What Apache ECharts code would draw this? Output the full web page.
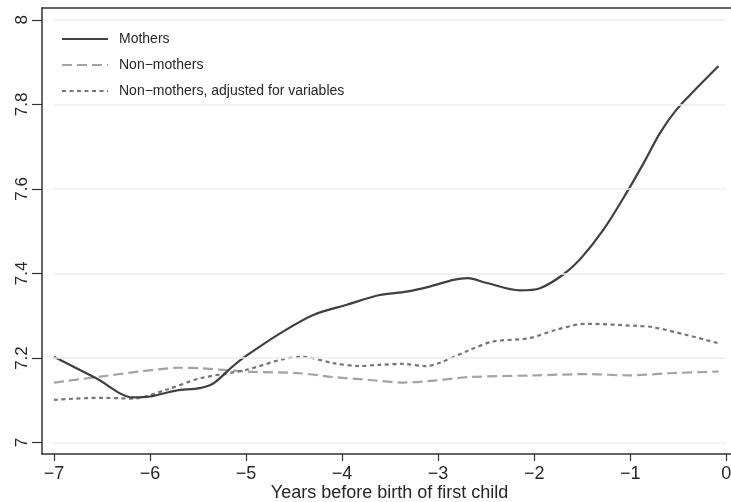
<!DOCTYPE html>
<html>
<head>
<meta charset="utf-8">
<script src="https://cdn.jsdelivr.net/npm/echarts@6/dist/echarts.min.js"></script>
<style>
  html, body { margin: 0; padding: 0; background: #fff; }
  #chart { width: 731px; height: 502px; }
</style>
</head>
<body>
<div id="chart"></div>
<script>
// Log wage trajectories before birth of first child
const mothersX = [-7, -6.56, -6.18, -6.0, -5.73, -5.48, -5.34, -5.14, -5.0, -4.62, -4.3, -3.95, -3.61, -3.33, -3.09, -2.84, -2.69, -2.5, -2.15, -1.94, -1.7, -1.52, -1.28, -1.04, -0.86, -0.69, -0.52, -0.31, -0.08];
const mothersY = [7.203, 7.152, 7.107, 7.109, 7.123, 7.129, 7.14, 7.18, 7.205, 7.262, 7.302, 7.326, 7.349, 7.357, 7.369, 7.385, 7.389, 7.378, 7.36, 7.365, 7.397, 7.434, 7.503, 7.59, 7.661, 7.732, 7.787, 7.838, 7.891];

const nonMothersX = [-7, -6.52, -6.11, -5.69, -5.48, -5.0, -4.44, -4.09, -3.71, -3.37, -3.02, -2.67, -1.98, -1.46, -1.0, -0.59, -0.08];
const nonMothersY = [7.142, 7.156, 7.168, 7.177, 7.176, 7.168, 7.164, 7.155, 7.148, 7.142, 7.147, 7.155, 7.159, 7.162, 7.159, 7.164, 7.168];

const adjustedX = [-7, -6.52, -6.18, -5.83, -5.48, -5.0, -4.62, -4.41, -4.09, -3.82, -3.61, -3.37, -3.12, -2.98, -2.67, -2.43, -2.05, -1.77, -1.46, -0.93, -0.76, -0.42, -0.08];
const adjustedY = [7.101, 7.106, 7.104, 7.125, 7.152, 7.172, 7.197, 7.203, 7.188, 7.181, 7.184, 7.186, 7.181, 7.189, 7.219, 7.239, 7.247, 7.267, 7.281, 7.276, 7.273, 7.255, 7.235];

const xTicks = [-7, -6, -5, -4, -3, -2, -1, 0];
const yTicks = [7, 7.2, 7.4, 7.6, 7.8, 8];

const seriesNames = ['Mothers', 'Non\u2212mothers', 'Non\u2212mothers, adjusted for variables'];
const xTitle = 'Years before birth of first child';

const pairs = (xs, ys) => xs.map((x, i) => [x, ys[i]]);

const font = 'Liberation Sans, Arial, Helvetica, sans-serif';
const ink = '#262626';

const chart = echarts.init(document.getElementById('chart'), null, { renderer: 'canvas' });

chart.setOption({
  animation: false,
  backgroundColor: '#ffffff',
  grid: { left: 42, top: 8, right: 0, bottom: 48, containLabel: false, outerBoundsMode: 'none' },
  legend: {
    orient: 'vertical',
    left: 56,
    top: 27,
    itemWidth: 46,
    itemHeight: 14,
    itemGap: 12,
    data: seriesNames,
    itemStyle: { opacity: 0 },
    textStyle: { fontFamily: font, fontSize: 14, color: ink, padding: [0, 0, 0, 6] },
    selectedMode: false
  },
  xAxis: [
    {
      type: 'value',
      min: -7.125,
      max: 0.05,
      position: 'bottom',
      name: xTitle,
      nameLocation: 'middle',
      nameGap: 30,
      nameMoveOverlap: false,
      nameTextStyle: { fontFamily: font, fontSize: 18, color: ink, padding: [0, 0, 0, 6] },
      axisLine: { show: true, onZero: false, lineStyle: { color: '#333', width: 1.5 } },
      axisTick: { show: true, length: 7, customValues: xTicks, lineStyle: { color: '#333', width: 1.2 } },
      axisLabel: {
        customValues: xTicks,
        margin: 11,
        fontFamily: font,
        fontSize: 18,
        color: ink,
        formatter: v => (v < 0 ? '\u2212' + Math.abs(v) : String(v))
      },
      splitLine: { show: false }
    },
    {
      type: 'value',
      min: -7.125,
      max: 0.05,
      position: 'top',
      axisLine: { show: true, onZero: false, lineStyle: { color: '#333', width: 1.5 } },
      axisTick: { show: false },
      axisLabel: { show: false },
      splitLine: { show: false }
    }
  ],
  yAxis: {
    type: 'value',
    min: 6.973,
    max: 8.028,
    axisLine: { show: true, onZero: false, lineStyle: { color: '#333', width: 1.5 } },
    axisTick: { show: true, length: 10, customValues: yTicks, lineStyle: { color: '#333', width: 1.2 } },
    axisLabel: {
      customValues: yTicks,
      rotate: 90,
      margin: 11,
      fontFamily: font,
      fontSize: 17,
      color: ink,
      formatter: v => String(Math.round(v * 10) / 10)
    },
    splitLine: { show: false }
  },
  series: [
    {
      // light reference lines at each y tick, spanning the tick range of x
      type: 'line',
      name: 'gridlines',
      data: [],
      z: 1,
      silent: true,
      markLine: {
        silent: true,
        symbol: 'none',
        label: { show: false },
        lineStyle: { color: '#ececec', width: 1.5, type: 'solid' },
        data: yTicks.map(v => [{ coord: [xTicks[0], v] }, { coord: [xTicks[xTicks.length - 1], v] }])
      }
    },
    {
      name: seriesNames[0],
      type: 'line',
      data: pairs(mothersX, mothersY),
      smooth: 0.3,
      symbol: 'none',
      z: 4,
      lineStyle: { color: '#404040', width: 2.2, type: 'solid' },
      itemStyle: { color: '#404040' }
    },
    {
      name: seriesNames[1],
      type: 'line',
      data: pairs(nonMothersX, nonMothersY),
      smooth: 0.3,
      symbol: 'none',
      z: 3,
      lineStyle: { color: '#a3a3a3', width: 2.2, type: [10, 5] },
      itemStyle: { color: '#a3a3a3' }
    },
    {
      name: seriesNames[2],
      type: 'line',
      data: pairs(adjustedX, adjustedY),
      smooth: 0.3,
      symbol: 'none',
      z: 3,
      lineStyle: { color: '#767676', width: 2.2, type: [4, 3.5] },
      itemStyle: { color: '#767676' }
    }
  ]
});
</script>
</body>
</html>
